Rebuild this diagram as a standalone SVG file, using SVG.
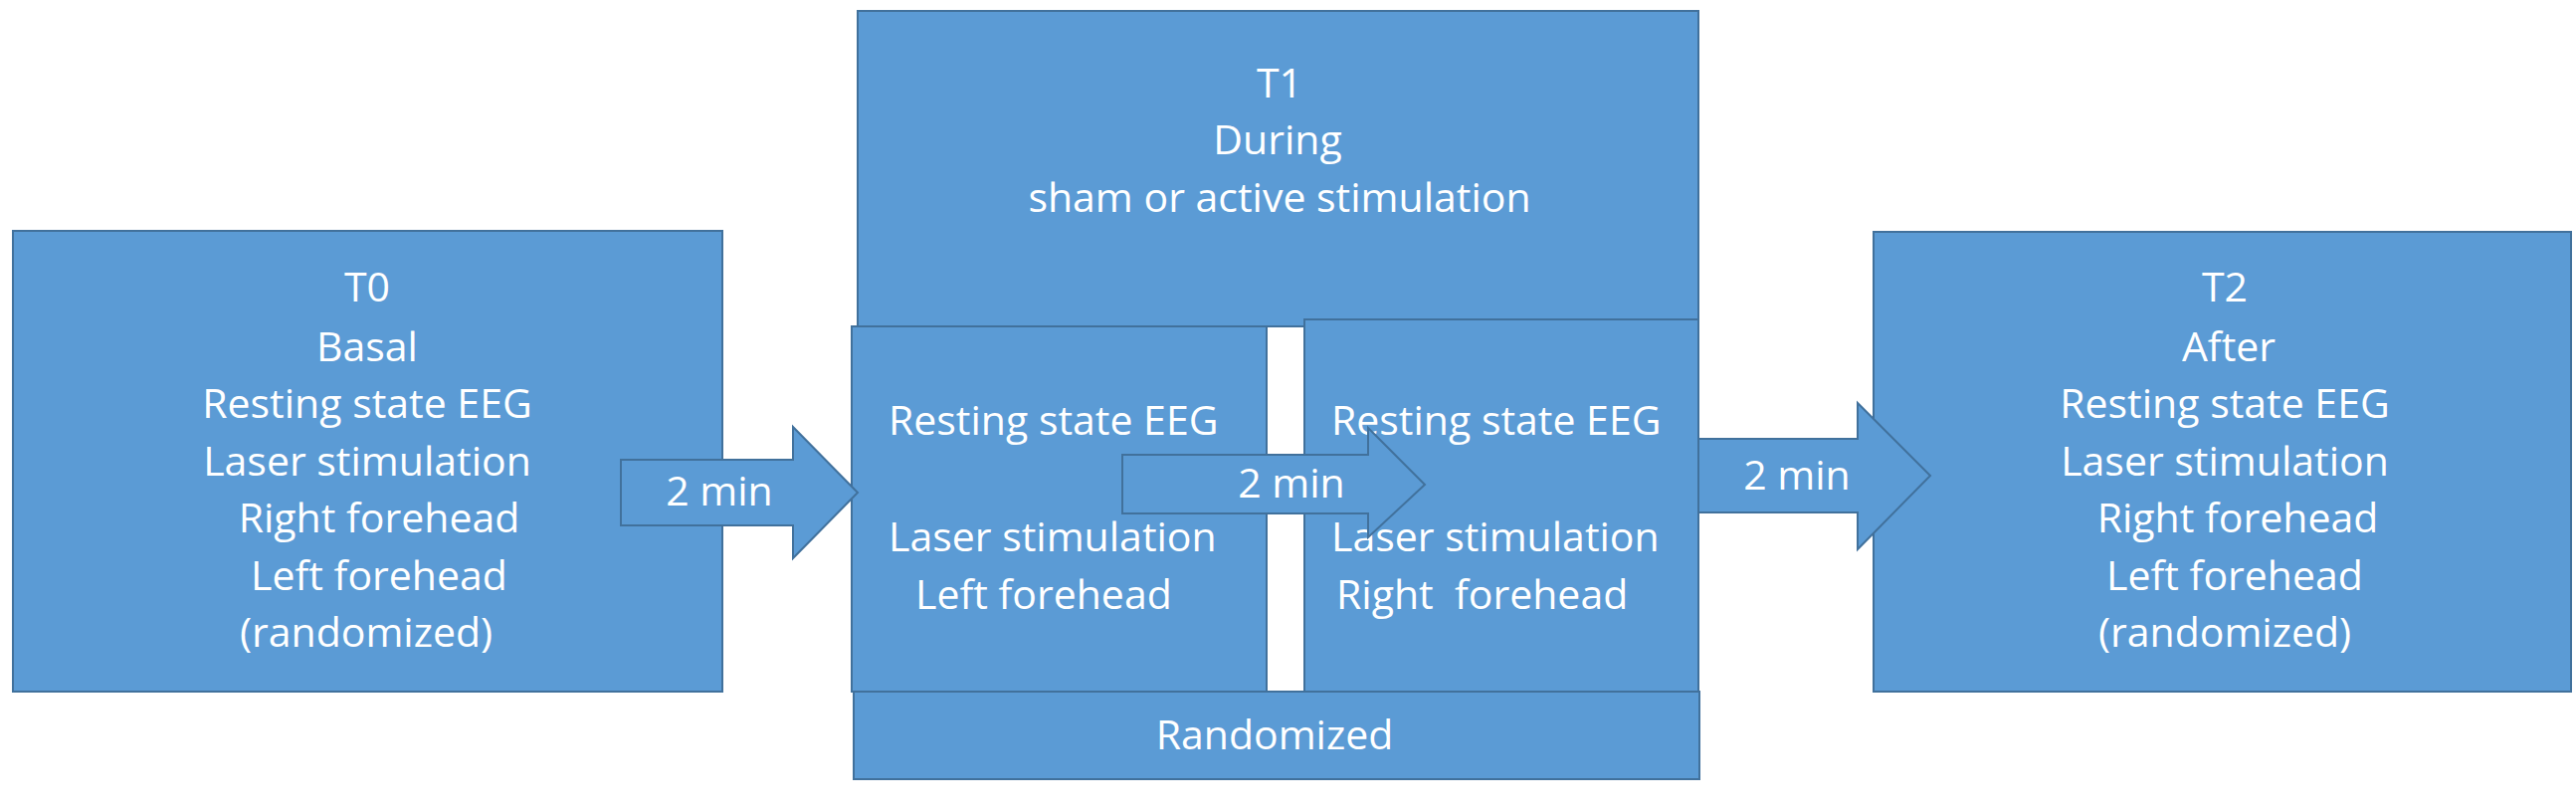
<svg xmlns="http://www.w3.org/2000/svg" width="2589" height="816" viewBox="0 0 2589 816">
<style>
.box{fill:#5B9BD5;stroke:#41719C;stroke-width:2}
.arr{fill:#5B9BD5;stroke:#41719C;stroke-width:2;stroke-linejoin:miter}
text{font-family:"Open Sans","Liberation Sans",sans-serif;font-size:41px;fill:#FFFFFF}
.c{text-anchor:middle}
</style>
<rect width="2589" height="816" fill="#FFFFFF"/>
<g id="T0">
<rect class="box" x="13" y="232" width="713" height="463"/>
<text class="c" x="369" y="303">T0</text>
<text class="c" x="369" y="363">Basal</text>
<text class="c" x="369" y="420">Resting state EEG</text>
<text class="c" x="369" y="478">Laser stimulation</text>
<text class="c" x="381" y="535">Right forehead</text>
<text class="c" x="381" y="593">Left forehead</text>
<text class="c" x="368" y="650">(randomized)</text>
</g>
<g id="T1">
<rect class="box" x="862" y="11" width="845" height="317"/>
<text class="c" x="1286" y="98">T1</text>
<text class="c" x="1284" y="155">During</text>
<text class="c" x="1286" y="213">sham or active stimulation</text>
</g>
<g id="T1-left">
<rect class="box" x="856" y="328" width="417" height="367"/>
<text x="893" y="437">Resting state EEG</text>
<text x="893" y="554">Laser stimulation</text>
<text x="920" y="612">Left forehead</text>
</g>
<g id="T1-right">
<rect class="box" x="1311" y="321" width="396" height="374"/>
<text x="1338" y="437">Resting state EEG</text>
<text x="1338" y="554">Laser stimulation</text>
<text x="1343" y="612" xml:space="preserve">Right  forehead</text>
</g>
<g id="randomized">
<rect class="box" x="858" y="695" width="850" height="88"/>
<text class="c" x="1281" y="753">Randomized</text>
</g>
<g id="T2">
<rect class="box" x="1883" y="233" width="701" height="462"/>
<text class="c" x="2236" y="303">T2</text>
<text class="c" x="2240" y="363">After</text>
<text class="c" x="2236" y="420">Resting state EEG</text>
<text class="c" x="2236" y="478">Laser stimulation</text>
<text class="c" x="2249" y="535">Right forehead</text>
<text class="c" x="2246" y="593">Left forehead</text>
<text class="c" x="2236" y="650">(randomized)</text>
</g>
<g id="connectors">
<polygon class="arr" points="624,462 797,462 797,429 862,495 797,561 797,528 624,528"/>
<text class="c" x="723" y="508">2 min</text>
<polygon class="arr" points="1128,457 1375,457 1375,430 1432,487 1375,540 1375,516 1128,516"/>
<text class="c" x="1298" y="500">2 min</text>
<polygon class="arr" points="1707,441 1867,441 1867,405 1940,478 1867,552 1867,515 1707,515"/>
<text class="c" x="1806" y="492">2 min</text>
</g>
</svg>
